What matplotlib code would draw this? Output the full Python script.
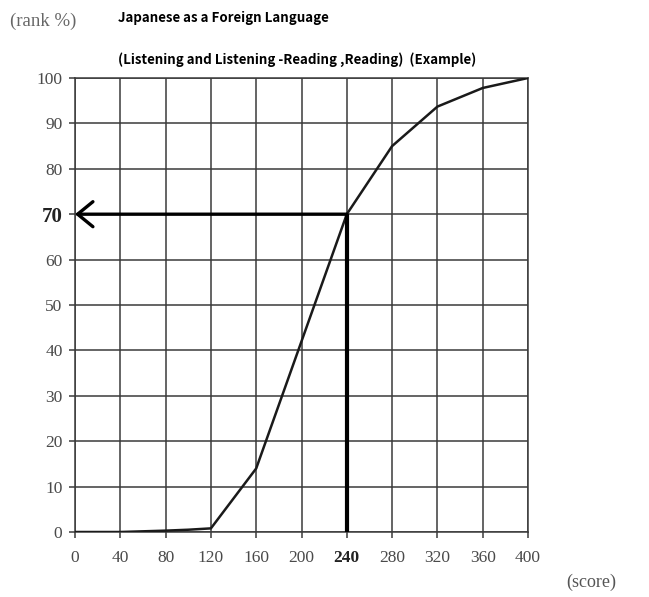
import matplotlib.pyplot as plt

# score -> cumulative rank (%)
scores = [0, 40, 80, 100, 120, 160, 200, 240, 280, 320, 360, 400]
ranks = [0, 0, 0.3, 0.5, 0.8, 14, 42, 70, 85, 93.7, 97.8, 100]

x_ticks = [0, 40, 80, 120, 160, 200, 240, 280, 320, 360, 400]
y_ticks = [0, 10, 20, 30, 40, 50, 60, 70, 80, 90, 100]

example_score = 240
example_rank = 70

title1 = "Japanese as a Foreign Language"
title2 = "(Listening and Listening -Reading ,Reading)  (Example)"

serif = ["Liberation Serif", "DejaVu Serif"]
tick_col = "#4a4a4a"
grid_col = "#3a3a3a"

fig = plt.figure(figsize=(6.49, 5.97), dpi=100)
ax = fig.add_axes([75 / 649, 1 - 532 / 597, 453 / 649, 454 / 597])

ax.set_xlim(0, 400)
ax.set_ylim(0, 100)
ax.set_xticks(x_ticks)
ax.set_yticks(y_ticks)
ax.grid(True, color=grid_col, linewidth=1.1)
ax.set_axisbelow(True)
for s in ax.spines.values():
    s.set_color(grid_col)
    s.set_linewidth(1.1)
ax.tick_params(axis="both", length=4, width=1.1, color=grid_col,
               labelcolor=tick_col, labelsize=12.5)
ax.tick_params(axis="x", pad=9)
ax.tick_params(axis="y", pad=5)
for lab in ax.get_xticklabels() + ax.get_yticklabels():
    lab.set_family(serif)
    if lab.get_text() in (str(example_score), str(example_rank)):
        lab.set_fontweight("bold")
        lab.set_color("#222222")
for lab in ax.get_yticklabels():
    if lab.get_text() == str(example_rank):
        lab.set_fontsize(15)

# the curve
ax.plot(scores, ranks, color="#1a1a1a", linewidth=1.8, zorder=3)

# reading example: vertical line and arrow to the rank axis
ax.plot([example_score, example_score], [0, example_rank],
        color="black", linewidth=3, zorder=4, solid_capstyle="butt")
ax.annotate("", xy=(0, example_rank), xytext=(example_score, example_rank),
            arrowprops=dict(arrowstyle="->,head_length=1.1,head_width=0.9",
                            color="black", linewidth=2.4, shrinkA=0, shrinkB=0),
            zorder=4, annotation_clip=False)

fig.text(10 / 649, 1 - 21 / 597, "(rank %)", family=serif, fontsize=13.5,
         color="#666666", va="center", ha="left")
fig.text(616 / 649, 1 - 582 / 597, "(score)", family=serif, fontsize=13,
         color="#555555", va="center", ha="right")
fig.text(118 / 649, 1 - 18 / 597, title1,
         family=["Noto Sans CJK JP", "DejaVu Sans"], fontweight="bold",
         fontsize=9.6, va="center", ha="left")
fig.text(118 / 649, 1 - 60 / 597, title2,
         family=["Noto Sans CJK JP", "DejaVu Sans"], fontweight="bold",
         fontsize=9.6, va="center", ha="left")

fig.savefig("out.png", dpi=100)
